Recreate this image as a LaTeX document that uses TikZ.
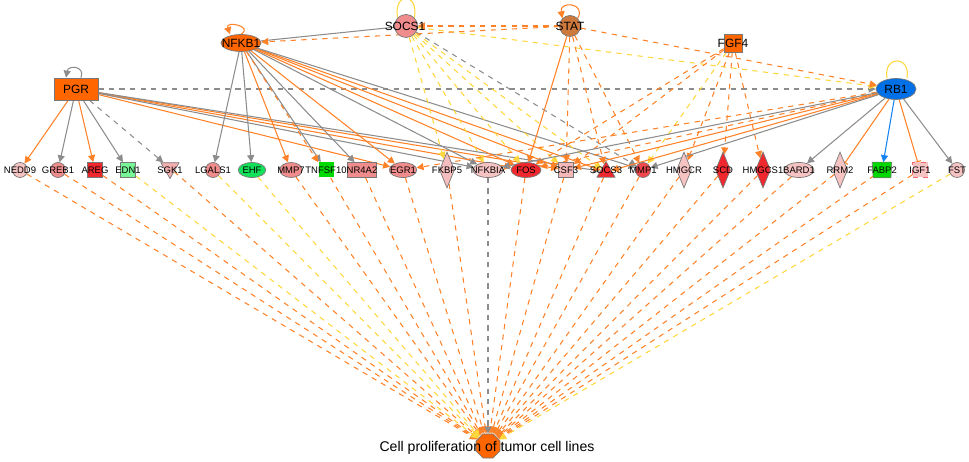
\documentclass[tikz,border=0pt]{standalone}
\usepackage{fontspec}
\setmainfont{Liberation Sans}
\usetikzlibrary{shapes.geometric,arrows.meta}
\pgfdeclarelayer{bg}
\pgfsetlayers{bg,main}
\definecolor{nodeorange}{RGB}{255,102,0}
\definecolor{edgeorange}{RGB}{255,130,40}
\definecolor{edgeyellow}{RGB}{255,215,60}
\definecolor{edgegrey}{RGB}{140,140,140}
\definecolor{edgeblue}{RGB}{20,130,240}
\definecolor{pinkA}{RGB}{246,195,195}
\definecolor{pinkB}{RGB}{240,140,140}
\definecolor{redA}{RGB}{240,40,45}
\definecolor{greenA}{RGB}{20,225,90}
\definecolor{greenL}{RGB}{120,245,150}
\definecolor{blueA}{RGB}{0,112,230}
\definecolor{brownA}{RGB}{205,120,60}
\definecolor{nodeline}{RGB}{120,120,120}
\tikzset{
  tip/.style={-{Triangle[width=4pt,length=4pt]}},
  eo/.style={draw=edgeorange,line width=0.6pt,tip},
  eod/.style={draw=edgeorange,line width=0.6pt,dashed,tip},
  eg/.style={draw=edgegrey,line width=0.6pt,tip},
  egd/.style={draw=edgegrey,line width=0.6pt,dashed,tip},
  ey/.style={draw=edgeyellow,line width=0.6pt,dashed,tip},
  eb/.style={draw=edgeblue,line width=0.6pt,tip},
  etb/.style={draw=edgeorange,line width=0.6pt,-{Bar[width=4pt]}},
  eline/.style={draw=edgegrey,line width=0.6pt},
  shp/.style={draw=nodeline,line width=0.4pt,inner sep=0pt},
  rowlbl/.style={font=\fontsize{5.4}{6}\selectfont,inner sep=0pt},
  toplbl/.style={font=\fontsize{6.8}{7}\selectfont,inner sep=0pt},
  circ/.style={shp,circle,minimum size=0.3cm},
  ell/.style={shp,ellipse,minimum width=0.55cm,minimum height=0.3cm},
  sq/.style={shp,rectangle,minimum size=0.3cm},
  dia/.style={shp,diamond,minimum width=0.3cm,minimum height=0.72cm},
  tridown/.style={shp,regular polygon,regular polygon sides=3,shape border rotate=180,minimum size=0.42cm},
  triup/.style={shp,regular polygon,regular polygon sides=3,minimum size=0.42cm},
}
\begin{document}
\begin{tikzpicture}[x=0.02cm,y=-0.02cm]
\useasboundingbox (0,0) rectangle (969,462);
% top nodes
\node[shp,rectangle,fill=nodeorange,minimum width=0.88cm,minimum height=0.44cm] (PGR) at (76,89) {};
\node[shp,ellipse,fill=nodeorange,minimum width=0.8cm,minimum height=0.34cm] (NFKB1) at (241,43) {};
\node[shp,circle,fill=pinkB,minimum size=0.46cm] (SOCS1) at (406,26) {};
\node[shp,circle,fill=brownA,minimum size=0.42cm] (STAT) at (570,26) {};
\node[shp,rectangle,fill=nodeorange,minimum size=0.36cm] (FGF4) at (733,43) {};
\node[shp,ellipse,fill=blueA,minimum width=0.8cm,minimum height=0.42cm] (RB1) at (896,89) {};
% row nodes
\node[circ,fill=pinkA] (NEDD9) at (20,170) {};
\node[circ,fill=pinkB] (GREB1) at (58,170) {};
\node[sq,fill=redA] (AREG) at (95,170) {};
\node[sq,fill=greenL] (EDN1) at (128,170) {};
\node[tridown,fill=pinkB!70!white] (SGK1) at (170,168) {};
\node[circ,fill=pinkB] (LGALS1) at (213,170) {};
\node[ell,fill=greenA,minimum width=0.55cm] (EHF) at (252,170) {};
\node[ell,fill=pinkB,minimum width=0.45cm] (MMP7) at (291,170) {};
\node[sq,fill=green!85!black,draw=none] (TNFSF10) at (326,170) {};
\node[shp,rectangle,fill=pinkB,minimum width=0.58cm,minimum height=0.3cm] (NR4A2) at (362,170) {};
\node[ell,fill=pinkB,minimum width=0.55cm] (EGR1) at (403,170) {};
\node[dia,fill=pinkA!90!pinkB] (FKBP5) at (447,170) {};
\node[ell,fill=pinkA,minimum width=0.6cm] (NFKBIA) at (488,170) {};
\node[ell,fill=redA,minimum width=0.6cm] (FOS) at (526,170) {};
\node[sq,fill=pinkA!80!pinkB] (CSF3) at (566,170) {};
\node[triup,fill=redA] (SOCS3) at (606,172) {};
\node[circ,fill=redA!85!white] (MMP1) at (643,170) {};
\node[dia,fill=pinkA] (HMGCR) at (684,170) {};
\node[dia,fill=redA] (SCD) at (723,170) {};
\node[dia,fill=redA] (HMGCS1) at (763,170) {};
\node[ell,fill=pinkA,minimum width=0.6cm] (BARD1) at (799,170) {};
\node[dia,fill=pinkA] (RRM2) at (840,170) {};
\node[rectangle,inner sep=0pt,minimum width=0.3cm,minimum height=0.3cm] (FABP2) at (882,170) {};
\filldraw[fill=green!85!black,draw=nodeline,line width=0.4pt] ([xshift=-0.04cm]FABP2.north west) -- ([xshift=0.04cm]FABP2.north east) -- ([xshift=0.02cm]FABP2.south east) -- ([xshift=-0.02cm]FABP2.south west) -- cycle;
\node[sq,fill=pinkA,dashed,draw=redA!70!white] (IGF1) at (920,170) {};
\node[circ,fill=pinkA] (FST) at (957,170) {};
% bottom node
\node[shp,regular polygon,regular polygon sides=8,fill=nodeorange,minimum size=0.52cm] (CP) at (488,446) {};

\begin{pgfonlayer}{bg}
% self loops
\draw[eg] ([xshift=0.1cm]PGR.north) to[out=70,in=80,looseness=2.2] ([xshift=-0.2cm]PGR.north);
\draw[eo] (NFKB1.north) to[out=30,in=110,looseness=3.5] ([xshift=-0.22cm]NFKB1.north);
\draw[draw=edgeyellow,line width=0.6pt] (SOCS1.north west) to[out=100,in=80,looseness=4] (SOCS1.north east);
\draw[eo] (STAT.north east) to[out=60,in=100,looseness=3] (STAT.north west);
\draw[draw=edgeyellow,line width=0.6pt] ([xshift=-0.18cm]RB1.north) to[out=100,in=80,looseness=3] ([xshift=0.22cm]RB1.north);
% PGR
\draw[eo] (PGR) -- (NEDD9);
\draw[eg] (PGR) -- (GREB1);
\draw[eo] (PGR) -- (AREG);
\draw[eg] (PGR) -- (EDN1);
\draw[egd] (PGR) -- (SGK1);
\draw[egd] (PGR) -- (RB1);
\draw[eo] (PGR) -- (EGR1);
\draw[eo] (PGR) -- (FOS);
\draw[eo] (PGR) -- (CSF3);
\draw[eg] (PGR) -- (NFKBIA);
\draw[eg] (PGR) -- (SOCS3);
% NFKB1
\draw[eline] (NFKB1) -- (SOCS1);
\draw[eg] (NFKB1) -- (LGALS1);
\draw[eg] (NFKB1) -- (EHF);
\draw[eo] (NFKB1) -- (MMP7);
\draw[eg] (NFKB1) -- (TNFSF10);
\draw[eg] (NFKB1) -- (NR4A2);
\draw[eo] (NFKB1) -- (EGR1);
\draw[eg] (NFKB1) -- (NFKBIA);
\draw[eo] (NFKB1) -- (FOS);
\draw[eo] (NFKB1) -- (CSF3);
\draw[eo] (NFKB1) -- (SOCS3);
\draw[eg] (NFKB1) -- (MMP1);
\draw[eod] (NFKB1) -- (TNFSF10.north west);
% SOCS1
\draw[eod] (STAT) -- (SOCS1);
\draw[ey] (SOCS1) -- (RB1);
\draw[ey] (SOCS1) -- (FKBP5);
\draw[ey] (SOCS1) -- (NFKBIA);
\draw[ey] (SOCS1) -- (FOS);
\draw[ey] (SOCS1) -- (CSF3);
\draw[ey] (SOCS1) -- (SOCS3);
\draw[egd] (SOCS1) -- (MMP1);
% STAT
\draw[eod] (STAT) -- (NFKB1);
\draw[eo] (STAT) -- (FOS);
\draw[eod] (STAT) -- (CSF3);
\draw[eod] (STAT) -- (SOCS3);
\draw[eod] (STAT) -- (MMP1);
\draw[eod] (STAT) -- (RB1);
% FGF4
\draw[eod] (FGF4) -- (FOS);
\draw[eod] (FGF4) -- (CSF3);
\draw[ey] (FGF4) -- (MMP1);
\draw[eod] (FGF4) -- (HMGCR);
\draw[eod] (FGF4) -- (SCD);
\draw[eod] (FGF4) -- (HMGCS1);
% RB1
\draw[eg] (RB1) -- (BARD1);
\draw[etb] (RB1) -- (RRM2);
\draw[eb] (RB1) -- (FABP2);
\draw[etb] (RB1) -- (IGF1);
\draw[eg] (RB1) -- (FST);
\draw[eod] (RB1) -- (FOS);
\draw[eod] (RB1) -- (EGR1);
\draw[eo] (RB1) -- (CSF3);
\draw[eo] (RB1) -- (SOCS3);
\draw[eg] (RB1) -- (NFKBIA);
\draw[eg] (RB1) -- (MMP1);
% to bottom
\foreach \n in {NEDD9,GREB1,AREG,SGK1,MMP7,TNFSF10,NR4A2,EGR1,FKBP5,FOS,CSF3,SOCS3,MMP1,HMGCR,SCD,HMGCS1,BARD1,RRM2,FABP2,IGF1}
  \draw[eod] (\n) -- (CP);
\foreach \n in {EDN1,LGALS1,EHF,FST}
  \draw[ey] (\n) -- (CP);
\draw[egd] (NFKBIA) -- (CP);
\end{pgfonlayer}

% labels
\node[toplbl] (PGRl) at (76,89) {PGR};
\node[toplbl] (NFKB1l) at (241,43) {NFKB1};
\node[toplbl] (SOCS1l) at (405,26) {SOCS1};
\node[toplbl] (STATl) at (570,26) {STAT};
\node[toplbl] (FGF4l) at (733,43) {FGF4};
\node[toplbl] (RB1l) at (896,89) {RB1};
\foreach \n/\x in {NEDD9/20,GREB1/58,AREG/95,EDN1/128,SGK1/170,LGALS1/213,EHF/252,MMP7/291,TNFSF10/326,NR4A2/362,EGR1/403,FKBP5/447,NFKBIA/488,FOS/526,CSF3/566,SOCS3/606,MMP1/643,HMGCR/684,SCD/723,HMGCS1/763,BARD1/799,RRM2/840,FABP2/882,IGF1/920,FST/957}
  \node[rowlbl] (\n l) at (\x,170) {\n};
\node[font=\fontsize{8}{9}\selectfont,inner sep=0pt] (CPl) at (487,448) {Cell proliferation of tumor cell lines};
\end{tikzpicture}
\end{document}
